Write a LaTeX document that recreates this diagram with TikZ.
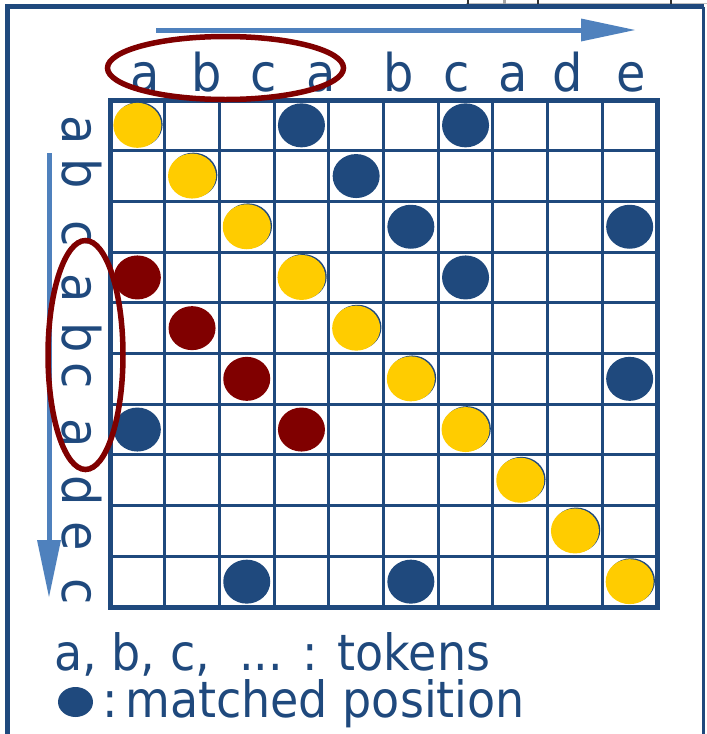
\documentclass[tikz,border=0pt]{standalone}
\usepackage{fontspec}
\setmainfont[FakeStretch=0.92]{DejaVu Sans}
\definecolor{navy}{RGB}{31,73,125}
\definecolor{gold}{RGB}{255,204,0}
\definecolor{maroon}{RGB}{128,0,0}
\definecolor{steel}{RGB}{79,129,189}
\tikzset{
  gridline/.style={draw=navy, line width=3pt},
  gridframe/.style={draw=navy, line width=5pt},
  toplabel/.style={text=navy, anchor=base, inner sep=0pt, font=\fontsize{52}{60}\selectfont},
  sidelabel/.style={text=navy, anchor=base, rotate=-90, inner sep=0pt, font=\fontsize{52}{60}\selectfont},
  legendtext/.style={text=navy, anchor=base west, inner sep=0pt, font=\fontsize{50}{58}\selectfont},
  hoop/.style={draw=maroon, line width=5.5pt},
  arrowshaft/.style={draw=steel, line width=5pt},
  arrowhead/.style={fill=steel},
  tick/.style={draw=black!80, line width=1.5pt},
}
\begin{document}
\begin{tikzpicture}[x=1pt,y=-1pt]
\useasboundingbox (0,0) rectangle (707,734);
% cropped edge of something above
\draw[draw=black!25, line width=1pt] (466,3.5) -- (707,3.5);
\foreach \x in {468,538,671}{\draw[tick] (\x,0) -- (\x,4);}
\draw[draw=black!35, line width=3pt] (504,0) -- (504,4);
% outer frame
\draw[draw=navy, line width=5pt] (7,740) -- (7,6.5) -- (704,6.5);
\draw[draw=navy, line width=2.5pt] (703.5,6.5) -- (703.5,740);
% grid
\def\gx{110}\def\gy{100}\def\cw{54.7}\def\ch{50.7}
\foreach \i in {1,...,9}{
  \draw[gridline] ({\gx+\i*\cw},\gy) -- ({\gx+\i*\cw},{\gy+10*\ch});
  \draw[gridline] (\gx,{\gy+\i*\ch}) -- ({\gx+10*\cw},{\gy+\i*\ch});
}
\draw[gridframe] (\gx,\gy) rectangle ({\gx+10*\cw},{\gy+10*\ch});
% yellow dots (diagonal)
\foreach \r/\c in {0/0,1/1,2/2,3/3,4/4,5/5,6/6,7/7,8/8,9/9}{
  \fill[navy] ({\gx+(\c+0.5)*\cw+1.3},{\gy+(\r+0.5)*\ch-0.9}) ellipse [x radius=24, y radius=22.5];
  \fill[gold] ({\gx+(\c+0.5)*\cw},{\gy+(\r+0.5)*\ch}) ellipse [x radius=24, y radius=22.5];
}
% blue dots
\foreach \r/\c in {0/3,0/6,1/4,2/5,2/9,3/6,5/9,6/0,9/2,9/5}{
  \fill[navy] ({\gx+(\c+0.5)*\cw},{\gy+(\r+0.5)*\ch}) ellipse [x radius=23.5, y radius=22];
}
% red dots
\foreach \r/\c in {3/0,4/1,5/2,6/3}{
  \fill[maroon] ({\gx+(\c+0.5)*\cw},{\gy+(\r+0.5)*\ch}) ellipse [x radius=23.5, y radius=22];
}
% top labels
\foreach \x/\t [count=\k] in {145/a,207/b,264/c,321/a,399/b,457/c,513/a,568/d,631/e}{
  \node[toplabel] (top\k) at (\x,91) {\t};
}
% side labels
\foreach \y/\t [count=\k] in {130/a,174/b,234/c,288/a,338/b,376/c,433/a,491/d,536/e,592/c}{
  \node[sidelabel] (side\k) at (62,\y) {\t};
}
% top arrow
\coordinate (ta0) at (156,30);
\coordinate (ta1) at (582,30);
\coordinate (tat) at (635,30);
\draw[arrowshaft] (ta0) -- (ta1);
\fill[arrowhead] (581,18.5) -- (tat) -- (581,41.5) -- cycle;
% side arrow
\coordinate (sa0) at (49,153);
\coordinate (sa1) at (49,541);
\coordinate (sat) at (49,597);
\draw[arrowshaft] (sa0) -- (sa1);
\fill[arrowhead] (37,540) -- (sat) -- (61,540) -- cycle;
% red hoops
\draw[hoop] (225.5,68) ellipse [x radius=118, y radius=31.5];
\draw[hoop] (85.5,355) ellipse [x radius=37.5, y radius=114.5];
% legend
\node[legendtext] (leg1) at (54,670) {a, b, c,\ \ ... : tokens};
\fill[navy] (75.5,702) ellipse [x radius=17.5, y radius=15];
\node[legendtext] (leg2c) at (102,717) {:};
\node[legendtext] (leg2) at (125,717) {matched position};
\end{tikzpicture}
\end{document}
